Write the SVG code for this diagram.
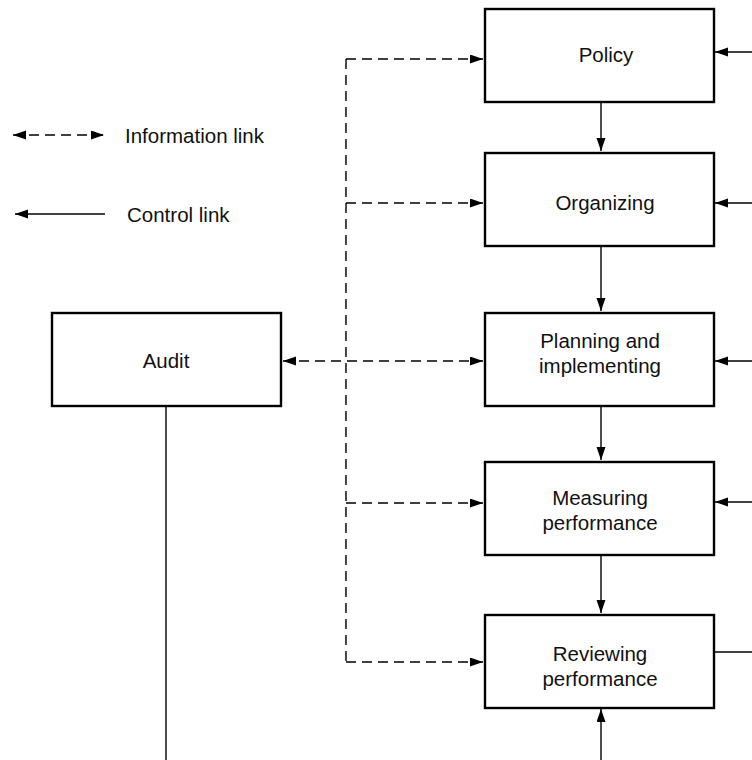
<svg xmlns="http://www.w3.org/2000/svg" width="752" height="760" viewBox="0 0 752 760">
  <style>
    .box { fill: #ffffff; stroke: #000000; stroke-width: 2.4; }
    .lbl { font-family: "Liberation Sans", Arial, sans-serif; font-size: 20.5px; fill: #111111; text-anchor: middle; }
    .leg { font-family: "Liberation Sans", Arial, sans-serif; font-size: 20.5px; fill: #111111; }
    .ctl { stroke: #000000; stroke-width: 1.4; fill: none; }
    .info { stroke: #000000; stroke-width: 1.4; fill: none; stroke-dasharray: 10 6; }
  </style>
  <defs>
    <marker id="head" markerUnits="userSpaceOnUse" markerWidth="14" markerHeight="10" refX="13" refY="4.5" orient="auto-start-reverse">
      <path d="M0,0 L13,4.5 L0,9 Z" fill="#000000"/>
    </marker>
  </defs>

  <!-- legend -->
  <g id="legend">
    <line class="info" x1="13" y1="135" x2="104" y2="135" stroke-dasharray="14 18 8 12 8 12 19" marker-start="url(#head)" marker-end="url(#head)"/>
    <text class="leg" x="125" y="143">Information link</text>
    <line class="ctl" x1="105" y1="214" x2="15" y2="214" marker-end="url(#head)"/>
    <text class="leg" x="127" y="222">Control link</text>
  </g>

  <!-- connectors -->
  <g id="connectors">
    <!-- information links -->
    <line class="info" x1="346" y1="59" x2="346" y2="662"/>
    <line class="info" x1="346" y1="59" x2="483" y2="59" marker-end="url(#head)"/>
    <line class="info" x1="346" y1="203" x2="483" y2="203" marker-end="url(#head)"/>
    <line class="info" x1="283" y1="361" x2="483" y2="361" marker-start="url(#head)" marker-end="url(#head)"/>
    <line class="info" x1="346" y1="503" x2="483" y2="503" marker-end="url(#head)"/>
    <line class="info" x1="346" y1="662" x2="483" y2="662" marker-end="url(#head)"/>
    <!-- control links down the chain -->
    <line class="ctl" x1="601" y1="102" x2="601" y2="151" marker-end="url(#head)"/>
    <line class="ctl" x1="601" y1="246" x2="601" y2="311" marker-end="url(#head)"/>
    <line class="ctl" x1="601" y1="406" x2="601" y2="460" marker-end="url(#head)"/>
    <line class="ctl" x1="601" y1="555" x2="601" y2="613" marker-end="url(#head)"/>
    <line class="ctl" x1="601" y1="760" x2="601" y2="709" marker-end="url(#head)"/>
    <!-- control links from the right -->
    <line class="ctl" x1="752" y1="52" x2="715" y2="52" marker-end="url(#head)"/>
    <line class="ctl" x1="752" y1="203" x2="715" y2="203" marker-end="url(#head)"/>
    <line class="ctl" x1="752" y1="361" x2="715" y2="361" marker-end="url(#head)"/>
    <line class="ctl" x1="752" y1="502" x2="715" y2="502" marker-end="url(#head)"/>
    <line class="ctl" x1="714" y1="652" x2="752" y2="652"/>
    <!-- audit feed -->
    <line class="ctl" x1="166" y1="406" x2="166" y2="760"/>
  </g>

  <g id="policy">
    <rect class="box" x="485" y="9" width="229" height="93"/>
    <text class="lbl" x="606" y="62">Policy</text>
  </g>
  <g id="organizing">
    <rect class="box" x="485" y="153" width="229" height="93"/>
    <text class="lbl" x="605" y="210">Organizing</text>
  </g>
  <g id="planning">
    <rect class="box" x="485" y="313" width="229" height="93"/>
    <text class="lbl" x="600" y="348">Planning and</text>
    <text class="lbl" x="600" y="373">implementing</text>
  </g>
  <g id="measuring">
    <rect class="box" x="485" y="462" width="229" height="93"/>
    <text class="lbl" x="600" y="505">Measuring</text>
    <text class="lbl" x="600" y="530">performance</text>
  </g>
  <g id="reviewing">
    <rect class="box" x="485" y="615" width="229" height="93"/>
    <text class="lbl" x="600" y="661">Reviewing</text>
    <text class="lbl" x="600" y="686">performance</text>
  </g>
  <g id="audit">
    <rect class="box" x="52" y="313" width="229" height="93"/>
    <text class="lbl" x="166" y="368">Audit</text>
  </g>
</svg>
